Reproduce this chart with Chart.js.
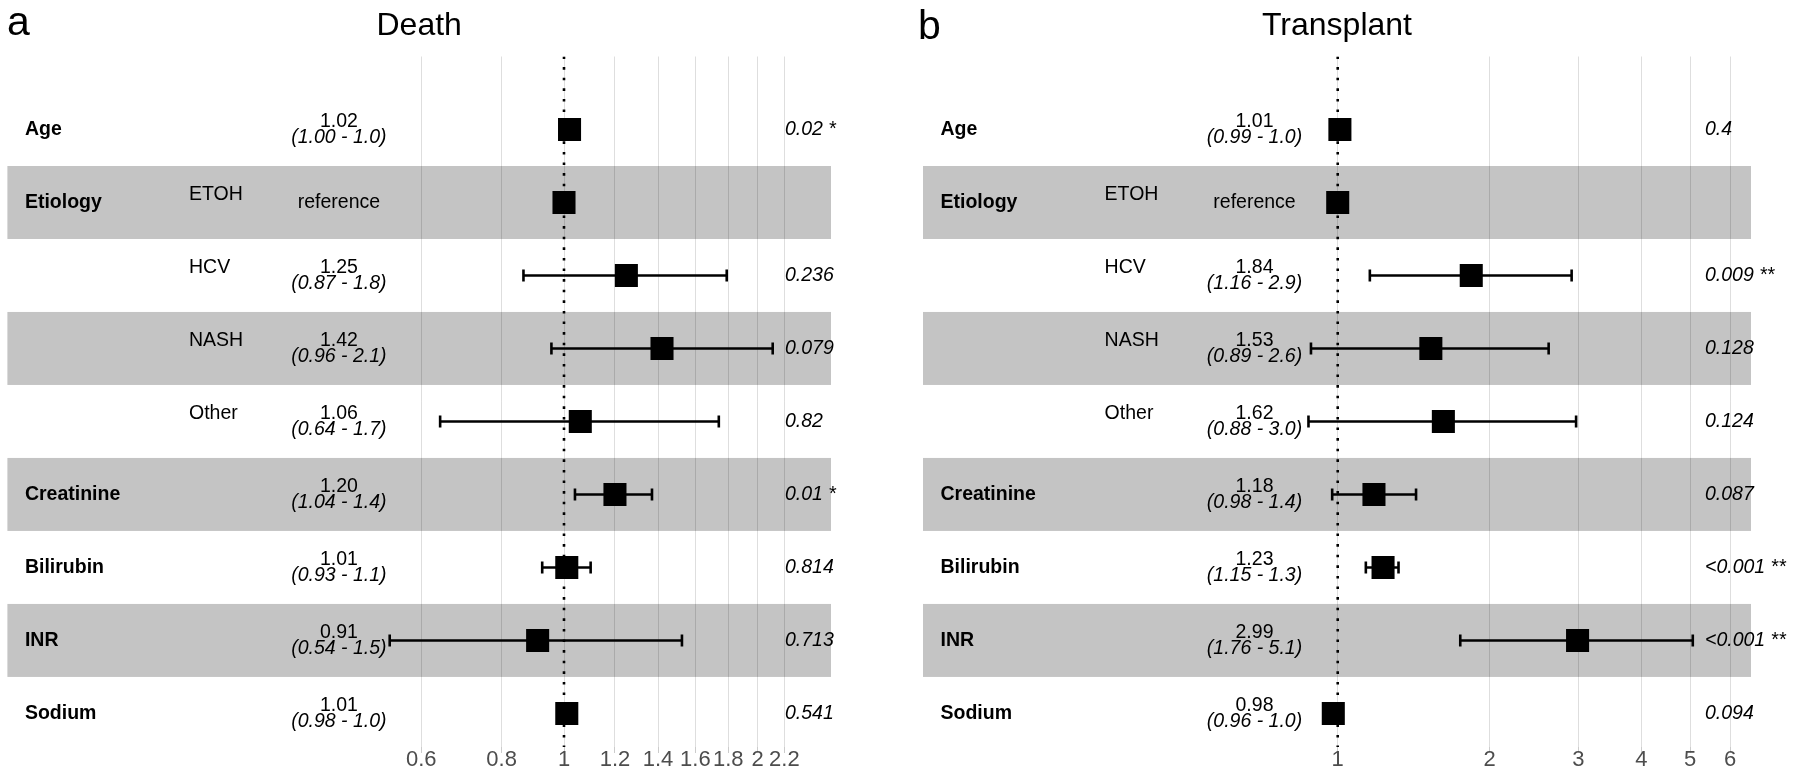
<!DOCTYPE html>
<html><head><meta charset="utf-8">
<script src="https://cdn.jsdelivr.net/npm/chart.js@4.4.1/dist/chart.umd.min.js"></script>
<style>
html,body{margin:0;padding:0;background:#fff;}
#wrap{position:relative;width:1800px;height:784px;overflow:hidden;background:#fff;}
canvas{position:absolute;top:0;}
</style></head><body>
<div id="wrap">
<canvas id="cA" width="900" height="784" style="left:0px"></canvas>
<canvas id="cB" width="900" height="784" style="left:900px"></canvas>
</div>
<script>
// ---------- data ----------
const rowNames   = ['Age','Etiology','','','','Creatinine','Bilirubin','INR','Sodium'];
const levelNames = ['','ETOH','HCV','NASH','Other','','','',''];
const shadedRows = [2,4,6,8];

const deathEst   = [1.02, 1.00, 1.25, 1.42, 1.06, 1.20, 1.01, 0.91, 1.01];
const deathLow   = [1.00, null, 0.865, 0.956, 0.642, 1.04, 0.925, 0.536, 0.98];
const deathHigh  = [1.04, null, 1.79, 2.11, 1.74, 1.37, 1.10, 1.525, 1.03];
const deathEstText = ['1.02','reference','1.25','1.42','1.06','1.20','1.01','0.91','1.01'];
const deathCiText  = ['(1.00 - 1.0)','','(0.87 - 1.8)','(0.96 - 2.1)','(0.64 - 1.7)','(1.04 - 1.4)','(0.93 - 1.1)','(0.54 - 1.5)','(0.98 - 1.0)'];
const deathP       = ['0.02 *','','0.236','0.079','0.82','0.01 *','0.814','0.713','0.541'];
const deathTicks      = [0.6, 0.8, 1, 1.2, 1.4, 1.6, 1.8, 2, 2.2];
const deathTickLabels = ['0.6','0.8','1','1.2','1.4','1.6','1.8','2','2.2'];

const txEst   = [1.01, 1.00, 1.84, 1.53, 1.62, 1.18, 1.23, 2.99, 0.98];
const txLow   = [0.99, null, 1.158, 0.885, 0.875, 0.975, 1.137, 1.75, 0.96];
const txHigh  = [1.03, null, 2.91, 2.62, 2.97, 1.43, 1.32, 5.06, 1.00];
const txEstText = ['1.01','reference','1.84','1.53','1.62','1.18','1.23','2.99','0.98'];
const txCiText  = ['(0.99 - 1.0)','','(1.16 - 2.9)','(0.89 - 2.6)','(0.88 - 3.0)','(0.98 - 1.4)','(1.15 - 1.3)','(1.76 - 5.1)','(0.96 - 1.0)'];
const txP       = ['0.4','','0.009 **','0.128','0.124','0.087','<0.001 **','<0.001 **','0.094'];
const txTicks      = [1, 2, 3, 4, 5, 6];
const txTickLabels = ['1','2','3','4','5','6'];

// ---------- drawing ----------
const FONT = '"Liberation Sans", Arial, Helvetica, sans-serif';
Chart.defaults.font.family = FONT;
const ROWMAX = 9.46;
const FS = '19.5px ';

function makePanel(id, p) {
  const rows = p.est.map((v, i) => i + 1);
  const datasets = [];
  // reference dotted line at 1
  datasets.push({
    type: 'line', data: [{x: 1, y: 0}, {x: 1, y: ROWMAX}],
    borderColor: '#000', borderWidth: 2.6, borderDash: [2.6, 8], borderCapStyle: 'butt',
    pointRadius: 0, fill: false, order: 3
  });
  // error bars
  p.est.forEach((v, i) => {
    if (p.low[i] == null) return;
    datasets.push({
      type: 'line', data: [{x: p.low[i], y: rows[i]}, {x: p.high[i], y: rows[i]}],
      borderColor: '#000', borderWidth: 2.6, fill: false,
      pointStyle: 'line', rotation: 90, pointRadius: 6, pointBorderWidth: 2.6,
      pointBorderColor: '#000', pointBackgroundColor: '#000', order: 2
    });
  });
  // point estimates
  datasets.push({
    type: 'scatter', data: p.est.map((v, i) => ({x: v, y: rows[i]})),
    pointStyle: 'rect', pointRadius: 16.3, backgroundColor: '#000', borderWidth: 0, order: 1
  });

  const forest = {
    id: 'forest' + id,
    beforeDraw(chart) {
      const {ctx, chartArea: a, scales: {y}} = chart;
      ctx.save();
      ctx.fillStyle = '#c4c4c4';
      shadedRows.forEach(r => {
        const t = y.getPixelForValue(r - 0.5), b = y.getPixelForValue(r + 0.5);
        ctx.fillRect(a.left, t, a.right - a.left, b - t);
      });
      ctx.restore();
    },
    afterDraw(chart) {
      const {ctx, chartArea: a, scales: {y}} = chart;
      ctx.save();
      ctx.textBaseline = 'middle';
      ctx.fillStyle = '#000';
      rows.forEach((r, i) => {
        const yc = y.getPixelForValue(r);
        if (rowNames[i]) {
          ctx.font = 'bold ' + FS + FONT; ctx.textAlign = 'left';
          ctx.fillText(rowNames[i], a.left + 17.5, yc);
        }
        if (levelNames[i]) {
          ctx.font = FS + FONT; ctx.textAlign = 'left';
          ctx.fillText(levelNames[i], a.left + 181.6, yc - 8);
        }
        const cx = a.left + 331.5;
        if (p.ci[i]) {
          ctx.font = FS + FONT; ctx.textAlign = 'center';
          ctx.fillText(p.estText[i], cx, yc - 8);
          ctx.font = 'italic ' + FS + FONT;
          ctx.fillText(p.ci[i], cx, yc + 8.5);
        } else {
          ctx.font = FS + FONT; ctx.textAlign = 'center';
          ctx.fillText(p.estText[i], cx, yc);
        }
        if (p.pv[i]) {
          ctx.font = 'italic ' + FS + FONT; ctx.textAlign = 'left';
          ctx.fillText(p.pv[i], p.pX, yc);
        }
      });
      ctx.font = '41px ' + FONT; ctx.textAlign = 'left'; ctx.textBaseline = 'alphabetic';
      ctx.fillText(p.tag, p.tagX, p.tagY);
      ctx.restore();
    }
  };

  return new Chart(document.getElementById(id), {
    data: {datasets},
    plugins: [forest],
    options: {
      responsive: false, animation: false, events: [], devicePixelRatio: 1,
      layout: {autoPadding: false, padding: {left: p.padL, right: p.padR, top: 0, bottom: 0}},
      plugins: {
        legend: {display: false}, tooltip: {enabled: false},
        title: {display: true, text: p.title, color: '#000',
                font: {size: 32, weight: 'normal', lineHeight: 1},
                padding: {top: 10, bottom: 14.5}}
      },
      scales: {
        x: {
          type: 'logarithmic', position: 'bottom', min: p.min, max: p.max,
          afterBuildTicks: (s) => { s.ticks = p.ticks.map(v => ({value: v})); },
          afterFit: (s) => { s.height = 37; },
          grid: {color: 'rgba(0,0,0,0.13)', lineWidth: 1, drawTicks: true, tickLength: 6,
                 tickColor: 'rgba(0,0,0,0.2)'},
          border: {display: false},
          ticks: {autoSkip: false, maxRotation: 0, minRotation: 0, padding: -4,
                  color: '#4d4d4d', font: {size: 22, lineHeight: 1},
                  callback: (v, idx) => p.tickLabels[idx]}
        },
        y: {type: 'linear', reverse: true, min: 0, max: ROWMAX, display: false}
      }
    }
  });
}

makePanel('cA', {
  title: 'Death', tag: 'a', tagX: 7, tagY: 35,
  est: deathEst, low: deathLow, high: deathHigh, estText: deathEstText, ci: deathCiText, pv: deathP,
  ticks: deathTicks, tickLabels: deathTickLabels, min: 0.1365, max: 2.5994,
  padL: 7.4, padR: 69, pX: 785
});
makePanel('cB', {
  title: 'Transplant', tag: 'b', tagX: 18, tagY: 39,
  est: txEst, low: txLow, high: txHigh, estText: txEstText, ci: txCiText, pv: txP,
  ticks: txTicks, tickLabels: txTickLabels, min: 0.1505, max: 6.601,
  padL: 23, padR: 49, pX: 805
});
</script>
</body></html>
